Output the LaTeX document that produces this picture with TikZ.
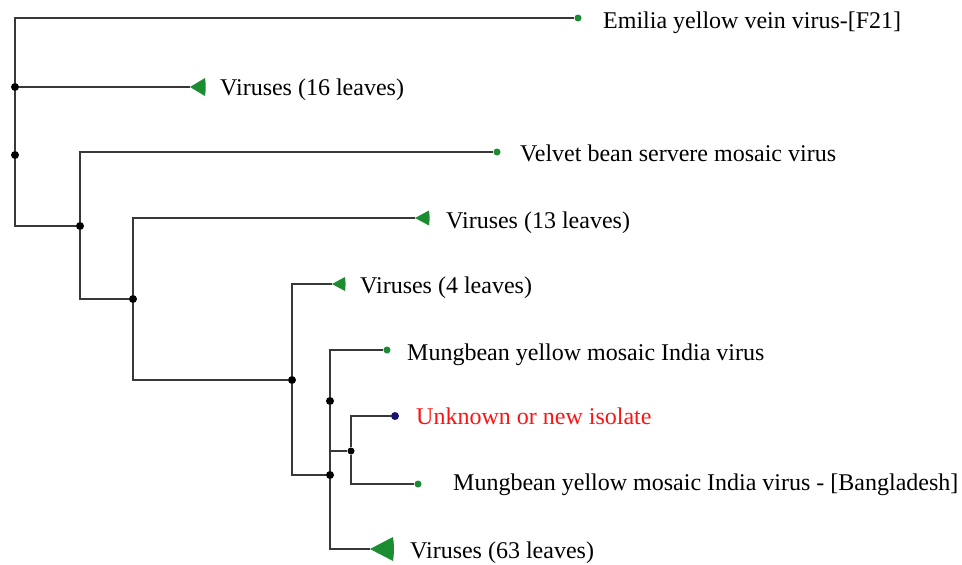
\documentclass[tikz,border=0pt]{standalone}
\usepackage{fontspec}
\setmainfont{Liberation Serif}
\definecolor{leafgreen}{RGB}{28,140,48}
\definecolor{isolatenavy}{RGB}{25,20,110}
\definecolor{isolatered}{RGB}{250,20,20}
\tikzset{
  branch/.style={draw=black!78, line width=2pt},
  joint/.style={circle, fill=black, inner sep=0pt, minimum size=8pt},
  leaf/.style={circle, fill=leafgreen, inner sep=0pt, minimum size=7pt},
  taxon/.style={anchor=base west, inner sep=0pt, font=\fontsize{24}{28}\selectfont},
}
% collapsed clade: tip, length, half height
\newcommand{\clade}[3]{\fill[leafgreen] (#1) -- ++(#2,-#3) to[bend left=8] ++(0,2*#3) -- cycle;}

\begin{document}
\begin{tikzpicture}[x=1pt, y=-1pt]
  \useasboundingbox (0,0) rectangle (962,565);

  % Internal nodes
  \node[joint] (root) at (15,155) {};
  \node[joint] (n1) at (15,87) {};
  \node[joint] (n2) at (80,226) {};
  \node[joint] (n3) at (133,299) {};
  \node[joint] (n4) at (292,380) {};
  \node[joint] (n5) at (330,401) {};
  \node[joint] (n6) at (330,475) {};
  \node[joint, minimum size=7pt] (n7) at (351,451) {};

  % Leaves
  \node[leaf] (emilia) at (578,18) {};
  \node[leaf] (velvet) at (497,152) {};
  \node[leaf] (mymiv) at (387,350) {};
  \node[circle, fill=isolatenavy, inner sep=0pt, minimum size=8pt] (isolate) at (395,416) {};
  \node[leaf] (mymivbd) at (418,484) {};

  % Collapsed clades
  \coordinate (v16) at (190,87);
  \coordinate (v13) at (415,218);
  \coordinate (v4) at (332,284);
  \coordinate (v63) at (370,549);
  \clade{v16}{15}{9}
  \clade{v13}{14}{7.5}
  \clade{v4}{13}{7}
  \clade{v63}{23}{12}

  % Branches
  \draw[branch] (root) -- (n1);
  \draw[branch] (n1) |- (emilia);
  \draw[branch] (n1) -- (v16);
  \draw[branch] (root) |- (n2);
  \draw[branch] (n2) |- (velvet);
  \draw[branch] (n2) |- (n3);
  \draw[branch] (n3) |- (v13);
  \draw[branch] (n3) |- (n4);
  \draw[branch] (n4) |- (v4);
  \draw[branch] (n4) |- (n6);
  \draw[branch] (n6) -- (n5);
  \draw[branch] (n6) |- (v63);
  \draw[branch] (n5) |- (mymiv);
  \draw[branch] (n5) |- (n7);
  \draw[branch] (n7) |- (isolate);
  \draw[branch] (n7) |- (mymivbd);

  % Labels
  \node[taxon] (emilia-l) at (603,28) {Emilia yellow vein virus-[F21]};
  \node[taxon] (v16-l) at (220,95) {Viruses (16 leaves)};
  \node[taxon] (velvet-l) at (520,161) {Velvet bean servere mosaic virus};
  \node[taxon] (v13-l) at (446,228) {Viruses (13 leaves)};
  \node[taxon] (v4-l) at (360,293) {Viruses (4 leaves)};
  \node[taxon] (mymiv-l) at (407,360) {Mungbean yellow mosaic India virus};
  \node[taxon, text=isolatered] (isolate-l) at (416,424) {Unknown or new isolate};
  \node[taxon] (mymivbd-l) at (453,490) {Mungbean yellow mosaic India virus - [Bangladesh]};
  \node[taxon] (v63-l) at (410,558) {Viruses (63 leaves)};
\end{tikzpicture}
\end{document}
